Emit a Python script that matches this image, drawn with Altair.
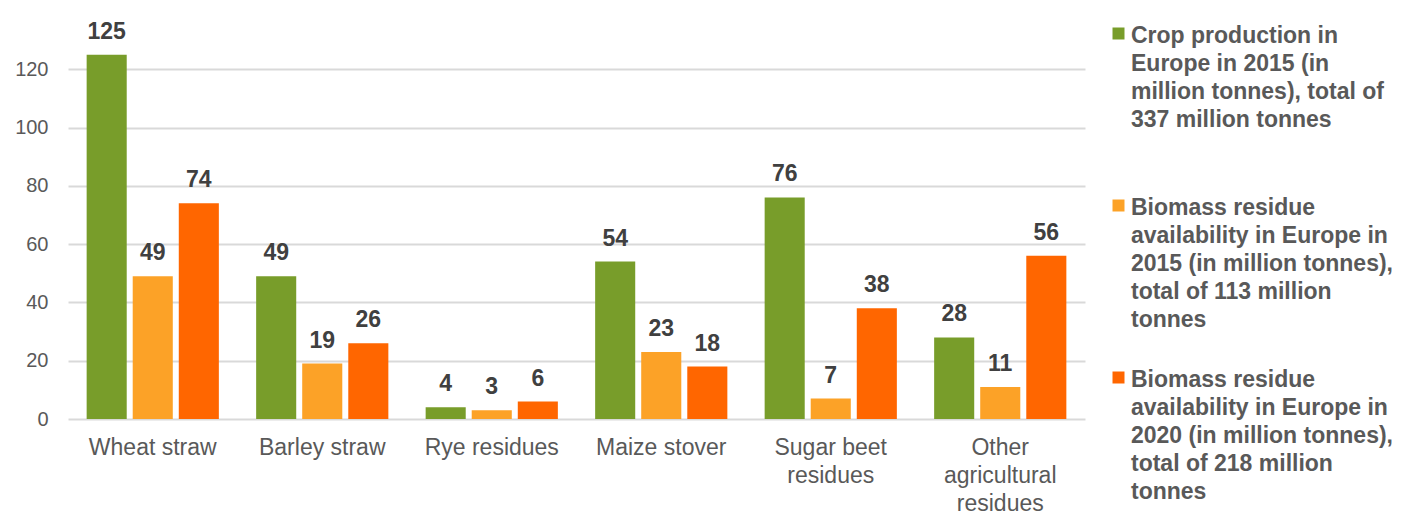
import altair as alt
import pandas as pd

categories = ["Wheat straw", "Barley straw", "Rye residues", "Maize stover",
              "Sugar beet|residues", "Other|agricultural|residues"]
series = [
    "Crop production in|Europe in 2015 (in|million tonnes), total of|337 million tonnes|",
    "Biomass residue|availability in Europe in|2015 (in million tonnes),|total of 113 million|tonnes",
    "Biomass residue|availability in Europe in|2020 (in million tonnes),|total of 218 million|tonnes",
]
crop_2015 = [125, 49, 4, 54, 76, 28]
residue_2015 = [49, 19, 3, 23, 7, 11]
residue_2020 = [74, 26, 6, 18, 38, 56]
colors = ["#789D2A", "#FCA227", "#FF6600"]
y_ticks = [0, 20, 40, 60, 80, 100, 120]

rows = []
for i, c in enumerate(categories):
    for s, vals in zip(series, [crop_2015, residue_2015, residue_2020]):
        rows.append({"category": c, "series": s, "value": vals[i]})
df = pd.DataFrame(rows)

FONT = "Liberation Sans"

x = alt.X("category:N", sort=categories, title=None,
          scale=alt.Scale(paddingInner=0.22, paddingOuter=0.11),
          axis=alt.Axis(labelExpr="split(datum.label, '|')", labelAngle=0,
                        labelFontSize=23, labelColor="#595959", labelFont=FONT,
                        labelLineHeight=28, labelPadding=17, domain=False,
                        ticks=False, labelLimit=300, labelBaseline="top"))
xo = alt.XOffset("series:N", sort=series,
                 scale=alt.Scale(paddingInner=0.13, paddingOuter=0))
y = alt.Y("value:Q", title=None,
          scale=alt.Scale(domain=[0, 141], nice=False),
          axis=alt.Axis(values=y_ticks, labelFontSize=20, labelColor="#595959",
                        labelFont=FONT, labelPadding=20, domain=False, ticks=False,
                        gridColor="#D9D9D9", gridWidth=2, minExtent=60, maxExtent=60))

base = alt.Chart(df).encode(x=x, xOffset=xo, y=y)

bars = base.mark_bar().encode(
    color=alt.Color("series:N", sort=series,
                    scale=alt.Scale(domain=series, range=colors),
                    legend=alt.Legend(
                        title=None, orient="none", legendX=1039, legendY=5,
                        labelExpr="split(datum.label, '|')", labelBaseline="top",
                        labelFontSize=23, labelFontWeight="bold", labelColor="#595959",
                        labelFont=FONT, labelLimit=400, labelOffset=1,
                        symbolType="M-1,0.5H1V2.5H-1Z", symbolSize=144,
                        symbolStrokeWidth=0, rowPadding=25, padding=0))
)

labels = base.mark_text(baseline="alphabetic", dy=-16, fontSize=23,
                        fontWeight="bold", color="#404040", font=FONT).encode(
    text="value:Q")

chart = (alt.layer(bars, labels)
         .properties(width=1017, height=411, padding=0)
         .configure(style={"guide-label": {"lineHeight": 28}})
         .configure_view(stroke=None))

chart.save("out.html", embed_options={"renderer": "svg", "actions": False})
